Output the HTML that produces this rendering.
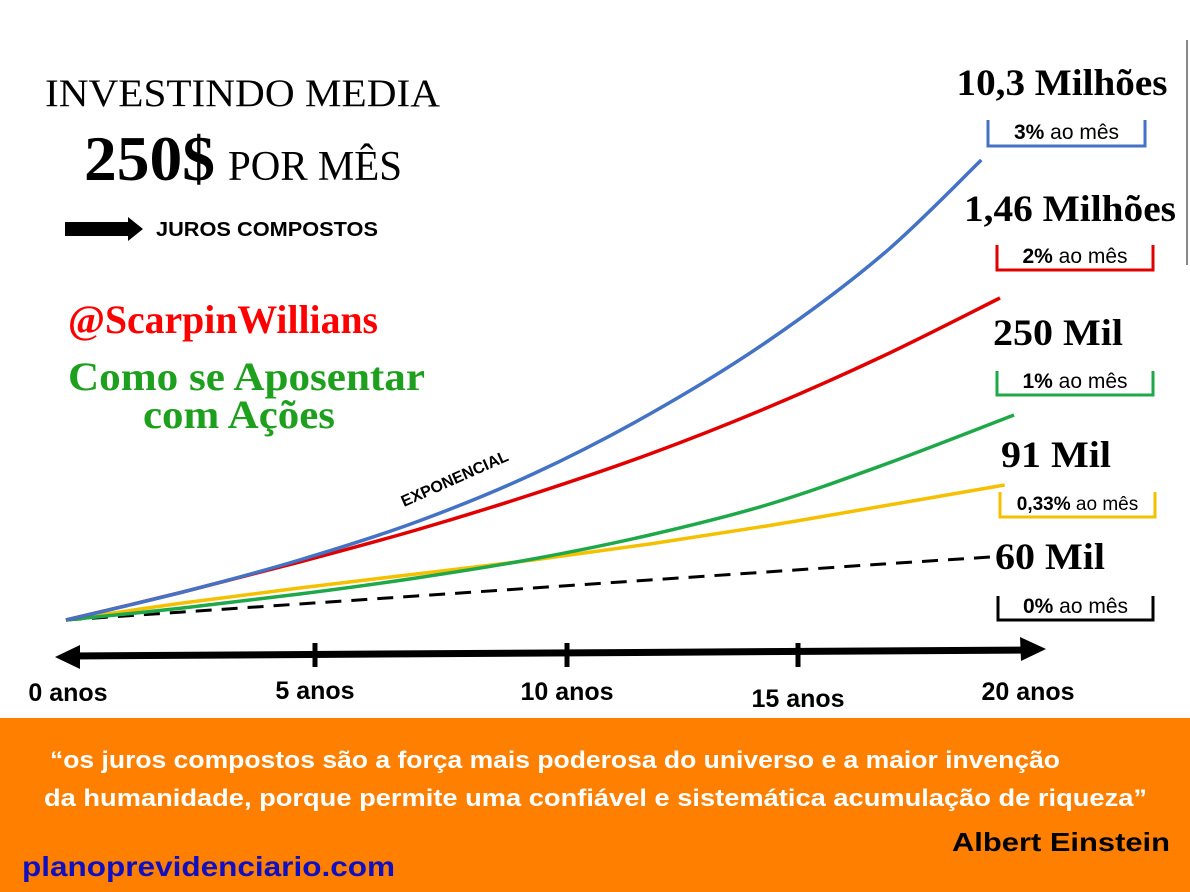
<!DOCTYPE html>
<html><head><meta charset="utf-8"><style>
body{margin:0;width:1190px;height:892px;overflow:hidden;background:#fff;font-family:"Liberation Sans",sans-serif}
svg{position:absolute;left:0;top:0}
</style></head><body>
<svg width="1190" height="892">
<line x1="1187" y1="40" x2="1187" y2="265" stroke="#888" stroke-width="2"/>
<text x="45" y="106" font-family="Liberation Serif" font-size="39" textLength="395" lengthAdjust="spacingAndGlyphs">INVESTINDO MEDIA</text>
<text x="84" y="180" font-family="Liberation Serif" font-size="64" font-weight="bold" textLength="131" lengthAdjust="spacingAndGlyphs">250$</text>
<text x="228" y="180" font-family="Liberation Serif" font-size="42" textLength="174" lengthAdjust="spacingAndGlyphs">POR MÊS</text>
<g><rect x="65" y="222" width="68" height="14" fill="#000"/><polygon points="128,217 143,229 128,241" fill="#000"/></g>
<text x="156" y="236" font-size="20" font-weight="bold" textLength="222" lengthAdjust="spacingAndGlyphs">JUROS COMPOSTOS</text>
<text x="68" y="333" font-family="Liberation Serif" font-size="40" font-weight="bold" fill="#f00" textLength="310" lengthAdjust="spacingAndGlyphs">@ScarpinWillians</text>
<text x="68" y="390" font-family="Liberation Serif" font-size="40" font-weight="bold" fill="#1ea01e" textLength="357" lengthAdjust="spacingAndGlyphs">Como se Aposentar</text>
<text x="143" y="428" font-family="Liberation Serif" font-size="40" font-weight="bold" fill="#1ea01e" textLength="192" lengthAdjust="spacingAndGlyphs">com Ações</text>
<text x="0" y="0" font-size="16" font-weight="bold" transform="translate(404,507) rotate(-24)">EXPONENCIAL</text>
<g id="plot"></g>
<g>
<line x1="70" y1="656" x2="1030" y2="650" stroke="#000" stroke-width="7"/>
<polygon points="55,657 80,645 80,669" fill="#000"/>
<polygon points="1046,649 1020,637 1021,661" fill="#000"/>
<g id="ticks"></g>
</g>
<rect x="0" y="718" width="1190" height="174" fill="#ff7f00"/>
<text x="50" y="768" font-size="24" font-weight="bold" fill="#fff" textLength="1010" lengthAdjust="spacingAndGlyphs">“os juros compostos são a força mais poderosa do universo e a maior invenção</text>
<text x="44" y="806" font-size="24" font-weight="bold" fill="#fff" textLength="1103" lengthAdjust="spacingAndGlyphs">da humanidade, porque permite uma confiável e sistemática acumulação de riqueza”</text>
<text x="952" y="851" font-size="26" font-weight="bold" textLength="218" lengthAdjust="spacingAndGlyphs">Albert Einstein</text>
<text x="22" y="876" font-size="28" font-weight="bold" fill="#1010c0" textLength="373" lengthAdjust="spacingAndGlyphs">planoprevidenciario.com</text>
</svg>
<script>
const years=[0,2.5,5,7.5,10,12.5,15,17.5,20];
const blueVals=[0,28,60,98,146,206,278,366,460];
const redVals=[0,28,58,90,126,166,212,264,322];
const greenVals=[0,12,26,42,61,85,115,155,205];
const yellowVals=[0,17,32,46,60,76,94,114,135];
const zeroVals=[0,8,16,24,32,40,48,56,63];
const tickYears=[0,5,10,15,20];
const tickLabels=["0 anos","5 anos","10 anos","15 anos","20 anos"];
const seriesLabels=["10,3 Milhões","1,46 Milhões","250 Mil","91 Mil","60 Mil"];
const rateBold=["3%","2%","1%","0,33%","0%"];
const endYears=[19.6,20,20.3,20.1,19.8];
const X=y=>66+y*46.7, Y=v=>620-v;
const NS="http://www.w3.org/2000/svg";
const svg=document.querySelector('svg');
const plot=document.getElementById('plot');
const series=[blueVals,redVals,greenVals,yellowVals,zeroVals];
const colors=["#4472c4","#e00000","#1ea84a","#f5c000","#000"];
const names=["line-3pct","line-2pct","line-1pct","line-033pct","line-0pct"];
series.slice().reverse().forEach((vals,ri)=>{
  const i=4-ri;
  const pts=vals.map((v,k)=>{const yr=k===vals.length-1?endYears[i]:years[k];return [X(yr),Y(v)];});
  let d="M"+pts[0][0]+","+pts[0][1];
  for(let k=0;k<pts.length-1;k++){
    const p0=pts[Math.max(0,k-1)],p1=pts[k],p2=pts[k+1],p3=pts[Math.min(pts.length-1,k+2)];
    d+=" C"+(p1[0]+(p2[0]-p0[0])/6)+","+(p1[1]+(p2[1]-p0[1])/6)+" "+(p2[0]-(p3[0]-p1[0])/6)+","+(p2[1]-(p3[1]-p1[1])/6)+" "+p2[0]+","+p2[1];
  }
  const p=document.createElementNS(NS,'path');
  p.setAttribute('d',d);p.setAttribute('fill','none');p.setAttribute('stroke',colors[i]);
  p.setAttribute('stroke-width',i===4?3:3.5);
  if(i===4)p.setAttribute('stroke-dasharray','16,10');
  
  
  plot.appendChild(p);
});
const lblPos=[[1062,95,988,1145,120,146],[1070,221,997,1153,245,270],[1058,345,997,1153,371,395],[1056,467,1000,1155,492,517],[1050,569,998,1153,596,620]];
const lblW=[211,212,130,110,110];
seriesLabels.forEach((t,i)=>{
  const [cx,ty,bx1,bx2,bt,bb]=lblPos[i];
  const g=document.createElementNS(NS,'g');
  
  
  g.innerHTML=`<text x="${cx-lblW[i]/2}" y="${ty}" font-family="Liberation Serif" font-size="37" font-weight="bold" textLength="${lblW[i]}" lengthAdjust="spacingAndGlyphs">${t}</text>
  <path d="M${bx1},${bt} V${bb} H${bx2} V${bt}" fill="none" stroke="${colors[i]}" stroke-width="3"/>
  <text x="${(bx1+bx2)/2}" y="${bb-7}" font-size="${i===3?19:21}" text-anchor="middle"><tspan font-weight="bold">${rateBold[i]}</tspan> ao mês</text>`;
  svg.appendChild(g);
});
const ticks=document.getElementById('ticks');
const tickY=[701,699,700,707,700];
tickYears.forEach((yr,i)=>{
  const x=[66,315,567,798,1028][i];
  if(i>0&&i<4){const l=document.createElementNS(NS,'line');l.setAttribute('x1',x);l.setAttribute('x2',x);l.setAttribute('y1',643);l.setAttribute('y2',667);l.setAttribute('stroke','#000');l.setAttribute('stroke-width',5);
  
  
  ticks.appendChild(l);}
  const t=document.createElementNS(NS,'text');
  t.setAttribute('x',i===0?68:x);t.setAttribute('y',tickY[i]);t.setAttribute('font-size',25);t.setAttribute('font-weight','bold');t.setAttribute('text-anchor','middle');
  t.textContent=tickLabels[i];
  
  
  ticks.appendChild(t);
});
</script>
</body></html>
